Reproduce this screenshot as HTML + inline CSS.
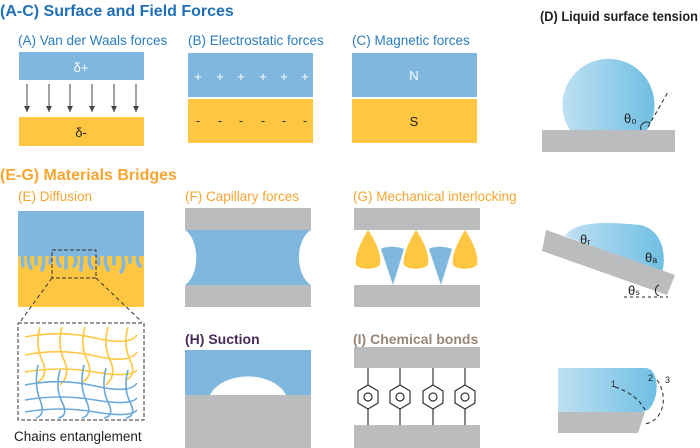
<!DOCTYPE html>
<html><head><meta charset="utf-8"><style>
html,body{margin:0;padding:0;background:#fff;width:700px;height:448px;overflow:hidden}
svg{display:block}
text{font-family:"Liberation Sans",sans-serif}
</style></head><body>
<svg width="700" height="448" viewBox="0 0 700 448" xmlns="http://www.w3.org/2000/svg">
<defs>
<linearGradient id="dg" x1="0" x2="1" y1="0" y2="0"><stop offset="0" stop-color="#bfe0f2"/><stop offset="1" stop-color="#6fbfe3"/></linearGradient>
<marker id="ar" markerWidth="7" markerHeight="7" refX="6" refY="3" orient="auto" markerUnits="userSpaceOnUse"><path d="M0,0 L6,3 L0,6 Z" fill="#444"/></marker>
</defs>
<!-- headings -->
<text x="0" y="16" font-size="16" font-weight="bold" fill="#1f70b8">(A-C) Surface and Field Forces</text>
<text x="0" y="180" font-size="16" font-weight="bold" fill="#f7a531">(E-G) Materials Bridges</text>
<text x="540" y="21" font-size="14" font-weight="bold" fill="#222" textLength="158" lengthAdjust="spacingAndGlyphs">(D) Liquid surface tension</text>
<g font-size="13.5" fill="#2a7cc0">
<text x="18" y="45">(A) Van der Waals forces</text>
<text x="188" y="45">(B) Electrostatic forces</text>
<text x="352" y="45">(C) Magnetic forces</text>
</g>
<g font-size="13.5" fill="#f7a531">
<text x="18" y="201">(E) Diffusion</text>
<text x="185" y="201">(F) Capillary forces</text>
<text x="353" y="201">(G) Mechanical interlocking</text>
</g>
<text x="185" y="344" font-size="14" font-weight="bold" fill="#4a2a55">(H) Suction</text>
<text x="353" y="344" font-size="14" font-weight="bold" fill="#9a8678">(I) Chemical bonds</text>
<text x="14" y="441" font-size="13.5" fill="#222">Chains entanglement</text>
<!-- A -->
<rect x="19" y="52" width="125" height="28" fill="#80b7de"/>
<text x="81" y="72" font-size="13" fill="#fff" text-anchor="middle">δ+</text>
<g stroke="#444" stroke-width="1" marker-end="url(#ar)">
<line x1="27" y1="84" x2="27" y2="112"/><line x1="49" y1="84" x2="49" y2="112"/><line x1="70" y1="84" x2="70" y2="112"/><line x1="92" y1="84" x2="92" y2="112"/><line x1="114" y1="84" x2="114" y2="112"/><line x1="136" y1="84" x2="136" y2="112"/>
</g>
<rect x="19" y="117" width="125" height="29" fill="#fec641"/>
<text x="81" y="137" font-size="13" fill="#222" text-anchor="middle">δ-</text>
<!-- B -->
<rect x="188" y="53" width="125" height="44" fill="#80b7de"/>
<rect x="188" y="99" width="125" height="44" fill="#fec641"/>
<g font-size="13" fill="#fff" text-anchor="middle"><text x="198" y="81">+</text><text x="220" y="81">+</text><text x="241" y="81">+</text><text x="263" y="81">+</text><text x="284" y="81">+</text><text x="305" y="81">+</text></g>
<g font-size="13" fill="#333" text-anchor="middle"><text x="198" y="125">-</text><text x="220" y="125">-</text><text x="241" y="125">-</text><text x="263" y="125">-</text><text x="284" y="125">-</text><text x="305" y="125">-</text></g>
<!-- C -->
<rect x="352" y="53" width="125" height="44" fill="#80b7de"/>
<rect x="352" y="99" width="125" height="44" fill="#fec641"/>
<text x="414" y="80" font-size="13" fill="#fff" text-anchor="middle">N</text>
<text x="414" y="126" font-size="13" fill="#222" text-anchor="middle">S</text>
<!-- D -->
<path d="M570,130 A46,46 0 1 1 647,130 Z" fill="url(#dg)"/>
<rect x="542" y="130" width="133" height="22" fill="#bbbcbe"/>
<line x1="648" y1="127" x2="668" y2="92" stroke="#222" stroke-dasharray="4,3"/>
<path d="M641,130 A6,6 0 0 1 650,123" fill="none" stroke="#222"/>
<text x="624" y="123" font-size="13" fill="#222">θ₀</text>
<!-- tilted -->
<path d="M565,236 C575,220 610,222 640,225 C665,230 666,260 662,272 Z" fill="url(#dg)"/>
<polygon points="546,230 675,275 667,295 542,251" fill="#bbbcbe"/>
<text x="580" y="244" font-size="13" fill="#222">θᵣ</text>
<text x="645" y="262" font-size="13" fill="#222">θₐ</text>
<text x="628" y="295" font-size="13" fill="#222">θₛ</text>
<line x1="624" y1="297" x2="668" y2="297" stroke="#222" stroke-dasharray="3,3"/>
<path d="M659,285 A6,6 0 0 0 659,296" fill="none" stroke="#222"/>
<!-- bottom right -->
<path d="M558,368 L645,368 C660,368 660,400 648,410 L642,412 L558,412 Z" fill="url(#dg)"/>
<polygon points="558,412 645,412 638,433 558,433" fill="#bbbcbe"/>
<path d="M615,387 C630,392 640,400 645,410" fill="none" stroke="#222" stroke-dasharray="4,3"/>
<path d="M657,380 C668,395 665,420 645,424" fill="none" stroke="#222" stroke-dasharray="4,3"/>
<text x="611" y="387" font-size="9" fill="#222">1</text>
<text x="648" y="381" font-size="9" fill="#222">2</text>
<text x="665" y="383" font-size="9" fill="#222">3</text>
<!-- E -->
<rect x="18" y="211" width="126" height="96" fill="#fec641"/>
<rect x="18" y="211" width="126" height="45" fill="#80b7de"/>
<g stroke="#80b7de" stroke-width="3.5" stroke-linecap="round" fill="none">
<path d="M22,255 L23,266"/><path d="M29,255 Q27,262 31,268"/><path d="M36,255 L36,264"/><path d="M43,255 Q45,262 42,270"/><path d="M51,255 L50,263"/><path d="M58,255 Q56,262 60,266"/><path d="M66,255 L66,268"/><path d="M74,255 Q78,262 74,266"/><path d="M82,255 L81,270"/><path d="M90,255 Q88,264 92,268"/><path d="M98,255 L99,264"/><path d="M106,255 Q104,262 108,270"/><path d="M114,255 L114,264"/><path d="M122,255 Q126,265 121,272"/><path d="M130,255 L130,262"/><path d="M138,255 Q136,262 140,266"/>
</g>
<rect x="52" y="250" width="44" height="28" fill="none" stroke="#333" stroke-dasharray="4,2"/>
<line x1="52" y1="278" x2="20" y2="322" stroke="#333" stroke-dasharray="4,3"/>
<line x1="96" y1="278" x2="142" y2="322" stroke="#333" stroke-dasharray="4,3"/>
<rect x="18" y="323" width="126" height="97" fill="none" stroke="#333" stroke-dasharray="4,2"/>
<g fill="none" stroke="#fec641" stroke-width="1.6">
<path d="M25,337 Q60,330 95,338 T137,335"/><path d="M25,355 Q60,348 95,356 T137,352"/><path d="M25,372 Q60,366 95,372 T137,370"/>
<path d="M40,327 Q35,345 42,360 T38,382"/><path d="M62,327 Q57,345 64,360 T60,385"/><path d="M85,327 Q80,345 87,360 T83,382"/><path d="M108,327 Q103,345 110,360 T106,385"/><path d="M128,327 Q123,345 130,360 T126,380"/>
</g>
<g fill="none" stroke="#6aa8d8" stroke-width="1.6">
<path d="M25,385 Q60,378 95,386 T137,383"/><path d="M25,400 Q60,394 95,400 T137,398"/><path d="M25,412 Q60,406 95,412 T137,410"/>
<path d="M38,365 Q34,385 40,400 T36,418"/><path d="M60,370 Q55,388 62,402 T58,418"/><path d="M84,365 Q79,385 86,400 T82,418"/><path d="M106,368 Q101,388 108,402 T104,418"/><path d="M128,370 Q123,388 130,402 T126,418"/>
</g>
<!-- F -->
<rect x="185" y="208" width="126" height="22" fill="#bbbcbe"/>
<rect x="185" y="285" width="126" height="22" fill="#bbbcbe"/>
<path d="M185,230 H311 C295,240 295,275 311,285 H185 C200,275 200,240 185,230 Z" fill="#80b7de"/>
<!-- G -->
<rect x="354" y="208" width="126" height="22" fill="#bbbcbe"/>
<rect x="354" y="285" width="126" height="22" fill="#bbbcbe"/>
<g fill="#fec641">
<path d="M368,230 C375,240 382,255 380,265 C375,270 360,270 356,265 C354,255 362,240 368,230 Z"/>
<path d="M416,230 C423,240 430,255 428,265 C423,270 408,270 404,265 C402,255 410,240 416,230 Z"/>
<path d="M465,230 C472,240 479,255 477,265 C472,270 457,270 453,265 C451,255 459,240 465,230 Z"/>
</g>
<g fill="#80b7de">
<path d="M381,249 C385,246 398,246 404,249 L393,285 Z"/>
<path d="M429,249 C433,246 446,246 452,249 L441,285 Z"/>
</g>
<!-- H -->
<rect x="185" y="350" width="126" height="45" fill="#80b7de"/>
<path d="M210,395 A40,27 0 0 1 286,395 Z" fill="#fff"/>
<rect x="185" y="395" width="126" height="53" fill="#bbbcbe"/>
<!-- I -->
<rect x="354" y="347" width="126" height="21" fill="#bbbcbe"/>
<rect x="354" y="425" width="126" height="23" fill="#bbbcbe"/>
<g fill="none" stroke="#333" stroke-width="1.2">
<g transform="translate(368,397)"><line x1="0" y1="-29" x2="0" y2="-12"/><line x1="0" y1="12" x2="0" y2="28"/><polygon points="0,-12 10,-6 10,6 0,12 -10,6 -10,-6"/><circle r="4"/></g>
<g transform="translate(400,397)"><line x1="0" y1="-29" x2="0" y2="-12"/><line x1="0" y1="12" x2="0" y2="28"/><polygon points="0,-12 10,-6 10,6 0,12 -10,6 -10,-6"/><circle r="4"/></g>
<g transform="translate(433,397)"><line x1="0" y1="-29" x2="0" y2="-12"/><line x1="0" y1="12" x2="0" y2="28"/><polygon points="0,-12 10,-6 10,6 0,12 -10,6 -10,-6"/><circle r="4"/></g>
<g transform="translate(465,397)"><line x1="0" y1="-29" x2="0" y2="-12"/><line x1="0" y1="12" x2="0" y2="28"/><polygon points="0,-12 10,-6 10,6 0,12 -10,6 -10,-6"/><circle r="4"/></g>
</g>
</svg>
</body></html>
